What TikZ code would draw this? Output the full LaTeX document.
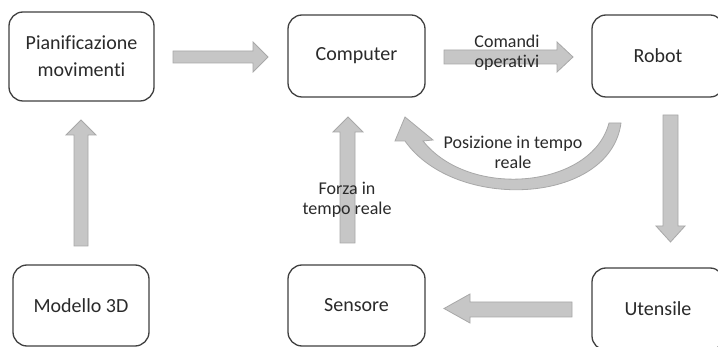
\documentclass[tikz,border=0pt]{standalone}
\usepackage{fontspec}
\setmainfont{Carlito}[RawFeature={-liga;-clig;-dlig}]
\definecolor{boxline}{HTML}{404040}
\definecolor{txt}{HTML}{2A2A2A}
\definecolor{arrfill}{HTML}{C6C6C6}
\definecolor{arrline}{HTML}{A8A8A8}
\tikzset{
  procbox/.style={draw=boxline, line width=1.3pt, rounded corners=14pt, fill=white,
    inner sep=0pt, align=center, text=txt, font=\fontsize{20}{27}\selectfont},
  blockarrow/.style={fill=arrfill, draw=arrline, line width=0.8pt, line join=miter},
  lbl/.style={align=center, text=txt, inner sep=0pt, font=\fontsize{18}{20}\selectfont}
}
\begin{document}
\begin{tikzpicture}[x=1pt,y=-1pt]
\useasboundingbox (0,0) rectangle (718,347);
\clip (0,0) rectangle (718,347);
\fill[white] (0,0) rectangle (718,347);
% boxes
\node[procbox, minimum width=145pt, minimum height=89pt] (pian) at (81.5,56.5) {Pianificazione\\movimenti};
\node[procbox, minimum width=137pt, minimum height=82pt] (comp) at (356.5,56) {Computer};
\node[procbox, minimum width=132pt, minimum height=82pt] (robot) at (658,56) {Robot};
\node[procbox, minimum width=136pt, minimum height=81pt] (model) at (81,305.5) {Modello 3D};
\node[procbox, minimum width=137pt, minimum height=81pt] (sens) at (356.5,305.5) {Sensore};
\node[procbox, minimum width=132pt, minimum height=82pt] (uten) at (658,309) {Utensile};
% block arrows
\path[blockarrow] (173,51) -- (253,51) -- (253,42) -- (268,57) -- (253,72) -- (253,63) -- (173,63) -- cycle;
\path[blockarrow] (444,50) -- (557,50) -- (557,42) -- (573,57) -- (557,72) -- (557,64) -- (444,64) -- cycle;
\path[blockarrow] (663,115) -- (678,115) -- (678,226) -- (685,226) -- (670.5,242) -- (656,226) -- (663,226) -- cycle;
\path[blockarrow] (572,302) -- (470,302) -- (470,294) -- (444,308.5) -- (470,323) -- (470,317) -- (572,317) -- cycle;
\path[blockarrow] (340,243) -- (340,132) -- (333,132) -- (348,117) -- (363,132) -- (355,132) -- (355,243) -- cycle;
\path[blockarrow] (74,246) -- (74,135) -- (66,135) -- (81,120) -- (96,135) -- (88,135) -- (88,246) -- cycle;
% curved arrow
\path[blockarrow] (609,123) .. controls (592,188) and (470,200) .. (423,141)
  -- (433,140) -- (405,117) -- (395,141) -- (405,141)
  .. controls (455,212) and (610,205) .. (621,123) -- cycle;
% labels
\node[lbl] (lcmd) at (507,53) {Comandi\\operativi};
\node[lbl] (lpos) at (513,152) {Posizione in tempo\\reale};
\node[lbl] (lforza) at (347,200) {Forza in\\tempo reale};
\end{tikzpicture}
\end{document}
